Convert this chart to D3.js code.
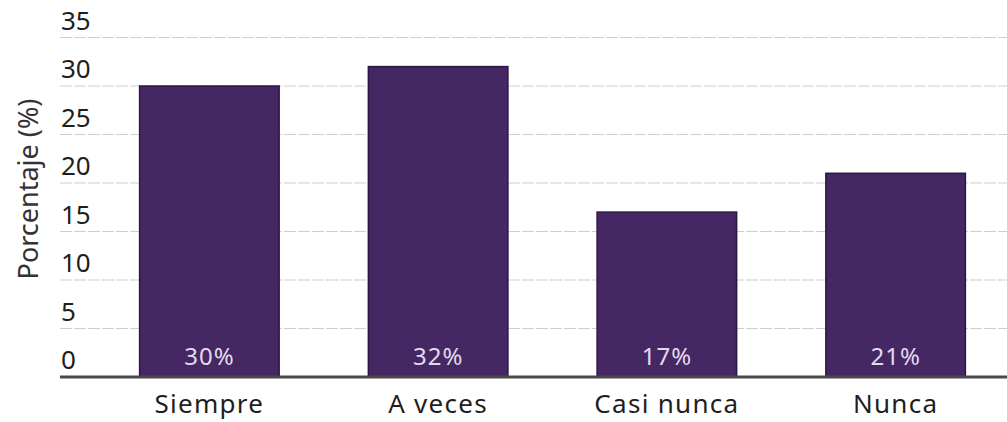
<!DOCTYPE html>
<html><head><meta charset="utf-8">
<script src="https://cdn.jsdelivr.net/npm/d3@7"></script>
<style>body{margin:0;background:#fff}svg{display:block}text{font-family:"Noto Sans",sans-serif}</style>
</head><body>
<svg id="c" width="1007" height="422"></svg>
<script>
const categories = ["Siempre", "A veces", "Casi nunca", "Nunca"];
const values = [30, 32, 17, 21];
const valueLabels = ["30%", "32%", "17%", "21%"];
const yTicks = [0, 5, 10, 15, 20, 25, 30, 35];
const yTitle = "Porcentaje (%)";

const svg = d3.select("#c");
const y = d3.scaleLinear().domain([0, 35]).range([377, 37.5]);
const x = d3.scaleBand().domain(categories).range([95, 1010]).paddingInner(0.39).paddingOuter(0.195);

// gridlines
svg.append("g").selectAll("line").data(yTicks.filter(d => d > 0)).join("line")
  .attr("x1", 60).attr("x2", 1007)
  .attr("y1", d => y(d)).attr("y2", d => y(d))
  .attr("stroke", "#cfcfcf").attr("stroke-width", 1.2).attr("stroke-dasharray", "12,2");

// y tick labels (placed above gridlines)
svg.append("g").selectAll("text").data(yTicks).join("text")
  .attr("x", 61).attr("y", d => y(d) - 8)
  .attr("font-size", 26).attr("fill", "#1e1e1e")
  .text(d => d);

// bars
svg.append("g").selectAll("rect").data(values).join("rect")
  .attr("x", (d, i) => x(categories[i]))
  .attr("width", x.bandwidth())
  .attr("y", d => y(d))
  .attr("height", d => y(0) - y(d))
  .attr("fill", "#452763").attr("stroke", "#2c1744").attr("stroke-width", 1.5);

// value labels
svg.append("g").selectAll("text").data(valueLabels).join("text")
  .attr("x", (d, i) => x(categories[i]) + x.bandwidth() / 2)
  .attr("y", y(0) - 12)
  .attr("text-anchor", "middle").attr("font-size", 24).attr("letter-spacing", 1).attr("fill", "#e2dbee")
  .text(d => d);

// axis baseline
svg.append("line").attr("x1", 60).attr("x2", 1007).attr("y1", y(0)).attr("y2", y(0))
  .attr("stroke", "#4a4a4a").attr("stroke-width", 3);

// x axis labels
svg.append("g").selectAll("text").data(categories).join("text")
  .attr("x", d => x(d) + x.bandwidth() / 2)
  .attr("y", 413)
  .attr("text-anchor", "middle").attr("font-size", 26).attr("letter-spacing", 1.3).attr("fill", "#1e1e1e")
  .text(d => d);

// y title
svg.append("text").attr("transform", "translate(38,189) rotate(-90)")
  .attr("text-anchor", "middle").attr("font-size", 27).attr("fill", "#333")
  .text(yTitle);
</script>
</body></html>
